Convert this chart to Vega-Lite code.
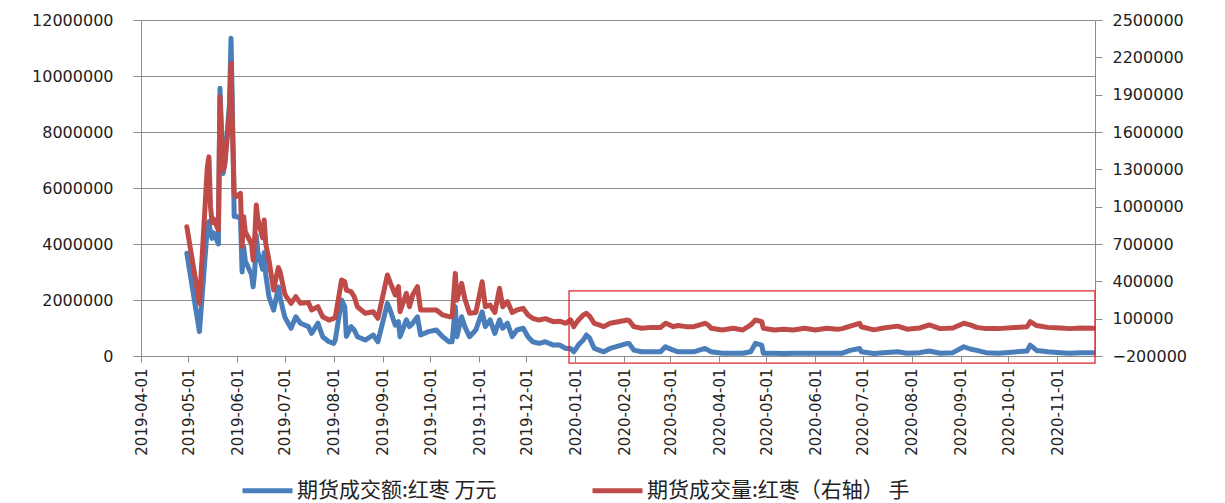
{
  "$schema": "https://vega.github.io/schema/vega-lite/v6.json",
  "width": 954,
  "height": 336,
  "autosize": {"type": "none"},
  "padding": {"left": 141, "top": 20, "right": 130, "bottom": 147},
  "background": "white",
  "config": {
    "view": {"stroke": null},
    "axis": {"labelFont": "DejaVu Sans", "labelColor": "#222222", "domainColor": "#8c8c8c", "tickColor": "#8c8c8c", "gridColor": "#8c8c8c", "titleFont": "DejaVu Sans"}
  },
  "datasets": {
    "series": [
      {"date": "2019-04-30", "amount": 3670000, "volume": 839000},
      {"date": "2019-05-08", "amount": 870000, "volume": 223000},
      {"date": "2019-05-13", "amount": 4600000, "volume": 1320000},
      {"date": "2019-05-14", "amount": 4800000, "volume": 1400000},
      {"date": "2019-05-15", "amount": 4400000, "volume": 1000000},
      {"date": "2019-05-16", "amount": 4200000, "volume": 870000},
      {"date": "2019-05-17", "amount": 4400000, "volume": 900000},
      {"date": "2019-05-20", "amount": 4000000, "volume": 812000},
      {"date": "2019-05-21", "amount": 9560000, "volume": 1884000},
      {"date": "2019-05-22", "amount": 8000000, "volume": 1550000},
      {"date": "2019-05-23", "amount": 6520000, "volume": 1295000},
      {"date": "2019-05-24", "amount": 6900000, "volume": 1330000},
      {"date": "2019-05-27", "amount": 9000000, "volume": 1750000},
      {"date": "2019-05-28", "amount": 11350000, "volume": 2152000},
      {"date": "2019-05-29", "amount": 8400000, "volume": 1590000},
      {"date": "2019-05-30", "amount": 4980000, "volume": 1107000},
      {"date": "2019-05-31", "amount": 5000000, "volume": 1080000},
      {"date": "2019-06-03", "amount": 4900000, "volume": 1107000},
      {"date": "2019-06-04", "amount": 3000000, "volume": 680000},
      {"date": "2019-06-05", "amount": 3900000, "volume": 920000},
      {"date": "2019-06-06", "amount": 3400000, "volume": 800000},
      {"date": "2019-06-10", "amount": 2900000, "volume": 700000},
      {"date": "2019-06-11", "amount": 2470000, "volume": 571000},
      {"date": "2019-06-12", "amount": 3000000, "volume": 750000},
      {"date": "2019-06-13", "amount": 4300000, "volume": 1013000},
      {"date": "2019-06-14", "amount": 3700000, "volume": 900000},
      {"date": "2019-06-17", "amount": 3100000, "volume": 750000},
      {"date": "2019-06-18", "amount": 3700000, "volume": 893000},
      {"date": "2019-06-19", "amount": 2900000, "volume": 700000},
      {"date": "2019-06-21", "amount": 2120000, "volume": 571000},
      {"date": "2019-06-24", "amount": 1640000, "volume": 330000},
      {"date": "2019-06-25", "amount": 1900000, "volume": 400000},
      {"date": "2019-06-27", "amount": 2470000, "volume": 510000},
      {"date": "2019-06-28", "amount": 2100000, "volume": 480000},
      {"date": "2019-07-01", "amount": 1400000, "volume": 300000},
      {"date": "2019-07-02", "amount": 1290000, "volume": 277000},
      {"date": "2019-07-05", "amount": 990000, "volume": 223000},
      {"date": "2019-07-08", "amount": 1400000, "volume": 277000},
      {"date": "2019-07-11", "amount": 1170000, "volume": 223000},
      {"date": "2019-07-16", "amount": 1050000, "volume": 230000},
      {"date": "2019-07-18", "amount": 810000, "volume": 170000},
      {"date": "2019-07-22", "amount": 1170000, "volume": 196000},
      {"date": "2019-07-25", "amount": 690000, "volume": 116000},
      {"date": "2019-07-29", "amount": 510000, "volume": 89000},
      {"date": "2019-08-01", "amount": 450000, "volume": 103000},
      {"date": "2019-08-02", "amount": 570000, "volume": 110000},
      {"date": "2019-08-06", "amount": 2000000, "volume": 411000},
      {"date": "2019-08-08", "amount": 1760000, "volume": 397000},
      {"date": "2019-08-09", "amount": 700000, "volume": 330000},
      {"date": "2019-08-12", "amount": 1050000, "volume": 317000},
      {"date": "2019-08-14", "amount": 930000, "volume": 277000},
      {"date": "2019-08-16", "amount": 690000, "volume": 196000},
      {"date": "2019-08-21", "amount": 570000, "volume": 143000},
      {"date": "2019-08-26", "amount": 750000, "volume": 156000},
      {"date": "2019-08-29", "amount": 510000, "volume": 103000},
      {"date": "2019-09-04", "amount": 1880000, "volume": 451000},
      {"date": "2019-09-06", "amount": 1600000, "volume": 384000},
      {"date": "2019-09-09", "amount": 1100000, "volume": 290000},
      {"date": "2019-09-11", "amount": 1230000, "volume": 357000},
      {"date": "2019-09-12", "amount": 690000, "volume": 156000},
      {"date": "2019-09-16", "amount": 1290000, "volume": 304000},
      {"date": "2019-09-18", "amount": 1050000, "volume": 196000},
      {"date": "2019-09-20", "amount": 1170000, "volume": 290000},
      {"date": "2019-09-23", "amount": 1400000, "volume": 357000},
      {"date": "2019-09-25", "amount": 750000, "volume": 170000},
      {"date": "2019-09-30", "amount": 870000, "volume": 170000},
      {"date": "2019-10-05", "amount": 930000, "volume": 170000},
      {"date": "2019-10-09", "amount": 690000, "volume": 130000},
      {"date": "2019-10-13", "amount": 510000, "volume": 116000},
      {"date": "2019-10-15", "amount": 510000, "volume": 116000},
      {"date": "2019-10-17", "amount": 1760000, "volume": 464000},
      {"date": "2019-10-18", "amount": 690000, "volume": 250000},
      {"date": "2019-10-21", "amount": 1400000, "volume": 384000},
      {"date": "2019-10-23", "amount": 1050000, "volume": 260000},
      {"date": "2019-10-26", "amount": 690000, "volume": 143000},
      {"date": "2019-10-30", "amount": 930000, "volume": 150000},
      {"date": "2019-11-03", "amount": 1580000, "volume": 397000},
      {"date": "2019-11-05", "amount": 1050000, "volume": 196000},
      {"date": "2019-11-08", "amount": 1290000, "volume": 210000},
      {"date": "2019-11-11", "amount": 810000, "volume": 150000},
      {"date": "2019-11-14", "amount": 1290000, "volume": 344000},
      {"date": "2019-11-16", "amount": 990000, "volume": 196000},
      {"date": "2019-11-19", "amount": 1170000, "volume": 237000},
      {"date": "2019-11-22", "amount": 690000, "volume": 150000},
      {"date": "2019-11-25", "amount": 930000, "volume": 170000},
      {"date": "2019-11-29", "amount": 990000, "volume": 183000},
      {"date": "2019-12-02", "amount": 690000, "volume": 130000},
      {"date": "2019-12-05", "amount": 510000, "volume": 103000},
      {"date": "2019-12-09", "amount": 450000, "volume": 89000},
      {"date": "2019-12-13", "amount": 510000, "volume": 100000},
      {"date": "2019-12-18", "amount": 390000, "volume": 76000},
      {"date": "2019-12-22", "amount": 390000, "volume": 80000},
      {"date": "2019-12-26", "amount": 270000, "volume": 63000},
      {"date": "2019-12-29", "amount": 270000, "volume": 90000},
      {"date": "2019-12-31", "amount": 150000, "volume": 36000},
      {"date": "2020-01-03", "amount": 400000, "volume": 90000},
      {"date": "2020-01-06", "amount": 570000, "volume": 130000},
      {"date": "2020-01-08", "amount": 750000, "volume": 143000},
      {"date": "2020-01-10", "amount": 640000, "volume": 120000},
      {"date": "2020-01-13", "amount": 270000, "volume": 63000},
      {"date": "2020-01-16", "amount": 210000, "volume": 50000},
      {"date": "2020-01-19", "amount": 150000, "volume": 36000},
      {"date": "2020-01-23", "amount": 270000, "volume": 63000},
      {"date": "2020-02-03", "amount": 450000, "volume": 89000},
      {"date": "2020-02-04", "amount": 450000, "volume": 85000},
      {"date": "2020-02-07", "amount": 210000, "volume": 36000},
      {"date": "2020-02-12", "amount": 150000, "volume": 23000},
      {"date": "2020-02-18", "amount": 150000, "volume": 30000},
      {"date": "2020-02-24", "amount": 150000, "volume": 30000},
      {"date": "2020-02-27", "amount": 330000, "volume": 63000},
      {"date": "2020-02-28", "amount": 300000, "volume": 60000},
      {"date": "2020-03-03", "amount": 210000, "volume": 36000},
      {"date": "2020-03-06", "amount": 150000, "volume": 45000},
      {"date": "2020-03-11", "amount": 150000, "volume": 36000},
      {"date": "2020-03-16", "amount": 150000, "volume": 36000},
      {"date": "2020-03-23", "amount": 270000, "volume": 63000},
      {"date": "2020-03-25", "amount": 210000, "volume": 50000},
      {"date": "2020-03-27", "amount": 150000, "volume": 23000},
      {"date": "2020-04-03", "amount": 100000, "volume": 9000},
      {"date": "2020-04-10", "amount": 100000, "volume": 23000},
      {"date": "2020-04-16", "amount": 100000, "volume": 9000},
      {"date": "2020-04-21", "amount": 150000, "volume": 50000},
      {"date": "2020-04-24", "amount": 450000, "volume": 89000},
      {"date": "2020-04-28", "amount": 390000, "volume": 76000},
      {"date": "2020-04-29", "amount": 100000, "volume": 23000},
      {"date": "2020-05-06", "amount": 100000, "volume": 9000},
      {"date": "2020-05-12", "amount": 90000, "volume": 15000},
      {"date": "2020-05-18", "amount": 100000, "volume": 9000},
      {"date": "2020-05-25", "amount": 100000, "volume": 23000},
      {"date": "2020-06-01", "amount": 100000, "volume": 9000},
      {"date": "2020-06-08", "amount": 100000, "volume": 23000},
      {"date": "2020-06-15", "amount": 100000, "volume": 15000},
      {"date": "2020-06-18", "amount": 100000, "volume": 20000},
      {"date": "2020-06-23", "amount": 200000, "volume": 40000},
      {"date": "2020-06-29", "amount": 270000, "volume": 63000},
      {"date": "2020-06-30", "amount": 150000, "volume": 35000},
      {"date": "2020-07-08", "amount": 90000, "volume": 10000},
      {"date": "2020-07-14", "amount": 120000, "volume": 25000},
      {"date": "2020-07-23", "amount": 150000, "volume": 40000},
      {"date": "2020-07-29", "amount": 100000, "volume": 15000},
      {"date": "2020-08-06", "amount": 120000, "volume": 25000},
      {"date": "2020-08-12", "amount": 180000, "volume": 50000},
      {"date": "2020-08-19", "amount": 100000, "volume": 20000},
      {"date": "2020-08-27", "amount": 120000, "volume": 25000},
      {"date": "2020-09-03", "amount": 330000, "volume": 63000},
      {"date": "2020-09-07", "amount": 250000, "volume": 50000},
      {"date": "2020-09-11", "amount": 200000, "volume": 30000},
      {"date": "2020-09-17", "amount": 120000, "volume": 20000},
      {"date": "2020-09-25", "amount": 100000, "volume": 20000},
      {"date": "2020-10-13", "amount": 180000, "volume": 35000},
      {"date": "2020-10-15", "amount": 390000, "volume": 76000},
      {"date": "2020-10-19", "amount": 200000, "volume": 45000},
      {"date": "2020-10-26", "amount": 150000, "volume": 30000},
      {"date": "2020-11-03", "amount": 120000, "volume": 25000},
      {"date": "2020-11-09", "amount": 100000, "volume": 20000},
      {"date": "2020-11-16", "amount": 120000, "volume": 25000},
      {"date": "2020-11-24", "amount": 120000, "volume": 22000}
    ],
    "box": [
      {"start": "2019-12-28", "end": "2020-11-25", "top": 324000, "bottom": -258000}
    ]
  },
  "encoding": {
    "x": {
      "field": "date",
      "type": "temporal",
      "scale": {"type": "utc", "domain": [{"year": 2019, "month": 4, "date": 1, "utc": true}, {"year": 2020, "month": 11, "date": 25, "utc": true}], "nice": false},
      "axis": {
        "title": null,
        "labelExpr": "utcFormat(datum.value, '%Y-%m-%d')",
        "tickCount": {"interval": "month", "step": 1},
        "labelAngle": 270,
        "labelFontSize": 15,
        "labelPadding": 6,
        "tickSize": 6,
        "grid": false,
        "labelOverlap": false,
        "labelFlush": false
      }
    }
  },
  "layer": [
    {
      "data": {"name": "series"},
      "mark": {"type": "line", "strokeWidth": 5, "strokeJoin": "round", "strokeCap": "round"},
      "encoding": {
        "y": {
          "field": "amount",
          "type": "quantitative",
          "scale": {"domain": [0, 12000000], "nice": false, "zero": false},
          "axis": {
            "title": null,
            "orient": "left",
            "values": [0, 2000000, 4000000, 6000000, 8000000, 10000000, 12000000],
            "format": "d",
            "labelFontSize": 16,
            "labelPadding": 20,
            "tickSize": 8,
            "grid": true,
            "gridWidth": 1.2
          }
        },
        "color": {
          "datum": "期货成交额:红枣 万元",
          "type": "nominal",
          "scale": {"domain": ["期货成交额:红枣 万元", "期货成交量:红枣（右轴） 手"], "range": ["#4A7EBB", "#BE4B48"]},
          "legend": {
            "title": null,
            "orient": "none",
            "direction": "horizontal",
            "legendX": 99,
            "legendY": 443,
            "symbolType": "stroke",
            "symbolSize": 2500,
            "symbolStrokeWidth": 5,
            "labelFont": "Noto Sans CJK SC",
            "labelFontSize": 21,
            "labelColor": "#222222",
            "labelLimit": 600,
            "labelOffset": 2,
            "columnPadding": 85,
            "padding": 0
          }
        }
      }
    },
    {
      "data": {"name": "series"},
      "mark": {"type": "line", "strokeWidth": 5, "strokeJoin": "round", "strokeCap": "round"},
      "encoding": {
        "y": {
          "field": "volume",
          "type": "quantitative",
          "scale": {"domain": [-200000, 2500000], "nice": false, "zero": false},
          "axis": {
            "title": null,
            "orient": "right",
            "values": [-200000, 100000, 400000, 700000, 1000000, 1300000, 1600000, 1900000, 2200000, 2500000],
            "format": "d",
            "labelFontSize": 16,
            "labelPadding": 10,
            "tickSize": 7,
            "grid": false
          }
        },
        "color": {"datum": "期货成交量:红枣（右轴） 手", "type": "nominal"}
      }
    },
    {
      "data": {"name": "box"},
      "mark": {"type": "rect", "fill": "transparent", "stroke": "#E0262B", "strokeWidth": 1.3, "clip": false},
      "encoding": {
        "x": {"field": "start", "type": "temporal"},
        "x2": {"field": "end"},
        "y": {"field": "top", "type": "quantitative", "scale": {"domain": [-200000, 2500000], "nice": false, "zero": false}, "axis": null},
        "y2": {"field": "bottom"}
      }
    }
  ],
  "resolve": {"scale": {"y": "independent"}, "axis": {"y": "independent"}}
}
